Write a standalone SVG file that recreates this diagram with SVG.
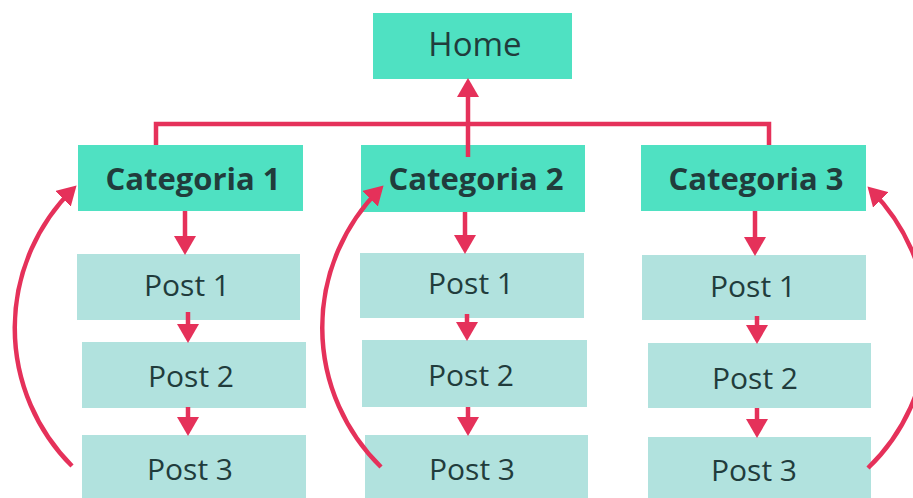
<svg xmlns="http://www.w3.org/2000/svg" width="913" height="498" viewBox="0 0 913 498">
<style>
.cat{fill:#4fe1c2}
.post{fill:#b1e2de}
.t{font-family:"Open Sans","Noto Sans","Liberation Sans",sans-serif;fill:#213c3c;text-anchor:middle}
.tb{font-weight:bold;font-size:31px}
.tp{font-size:30px}
.c{fill:none;stroke:#e5315a;stroke-width:4.5}
</style>
<defs>
<marker id="ah" markerUnits="userSpaceOnUse" markerWidth="20" markerHeight="22" viewBox="0 0 20 22" refX="14" refY="11" orient="auto">
<path d="M0,0 L19,11 L0,22 z" fill="#e5315a"/>
</marker>
</defs>
<rect width="913" height="498" fill="#ffffff"/>
<g id="home"><rect class="cat" x="373" y="13" width="199" height="66"/><text class="t" x="475" y="56" style="font-size:33px">Home</text></g>
<g id="cat1"><rect class="cat" x="78" y="145" width="225" height="66"/><text class="t tb" x="193" y="190">Categoria 1</text></g>
<g id="cat2"><rect class="cat" x="361" y="145" width="224" height="67"/><text class="t tb" x="476" y="190">Categoria 2</text></g>
<g id="cat3"><rect class="cat" x="641" y="145" width="225" height="66"/><text class="t tb" x="756" y="190">Categoria 3</text></g>
<g id="c1p1"><rect class="post" x="77" y="254" width="223" height="66"/><text class="t tp" x="187" y="296">Post 1</text></g>
<g id="c1p2"><rect class="post" x="82" y="342" width="224" height="66"/><text class="t tp" x="191" y="387">Post 2</text></g>
<g id="c1p3"><rect class="post" x="82" y="435" width="224" height="70"/><text class="t tp" x="190" y="480">Post 3</text></g>
<g id="c2p1"><rect class="post" x="360" y="253" width="224" height="65"/><text class="t tp" x="471" y="294">Post 1</text></g>
<g id="c2p2"><rect class="post" x="362" y="340" width="225" height="67"/><text class="t tp" x="471" y="386">Post 2</text></g>
<g id="c2p3"><rect class="post" x="365" y="435" width="223" height="70"/><text class="t tp" x="472" y="480">Post 3</text></g>
<g id="c3p1"><rect class="post" x="642" y="255" width="224" height="65"/><text class="t tp" x="753" y="297">Post 1</text></g>
<g id="c3p2"><rect class="post" x="648" y="343" width="223" height="65"/><text class="t tp" x="755" y="389">Post 2</text></g>
<g id="c3p3"><rect class="post" x="648" y="437" width="223" height="68"/><text class="t tp" x="754" y="481">Post 3</text></g>
<g id="connectors">
<path class="c" d="M156,145 V124 H769 V145"/>
<path class="c" d="M468,157 V83" marker-end="url(#ah)"/>
<path class="c" d="M185,211 V250" marker-end="url(#ah)"/>
<path class="c" d="M188,312 V338" marker-end="url(#ah)"/>
<path class="c" d="M188,407 V431" marker-end="url(#ah)"/>
<path class="c" d="M465,212 V249" marker-end="url(#ah)"/>
<path class="c" d="M467,314 V336" marker-end="url(#ah)"/>
<path class="c" d="M468,407 V431" marker-end="url(#ah)"/>
<path class="c" d="M755,211 V251" marker-end="url(#ah)"/>
<path class="c" d="M757,316 V339" marker-end="url(#ah)"/>
<path class="c" d="M757,408 V433" marker-end="url(#ah)"/>
<path class="c" d="M72,466 A195 195 0 0 1 73,189" marker-end="url(#ah)"/>
<path class="c" d="M381,467 A195 195 0 0 1 380,189" marker-end="url(#ah)"/>
<path class="c" d="M868,468 A195 195 0 0 0 871,190" marker-end="url(#ah)"/>
</g>
</svg>
